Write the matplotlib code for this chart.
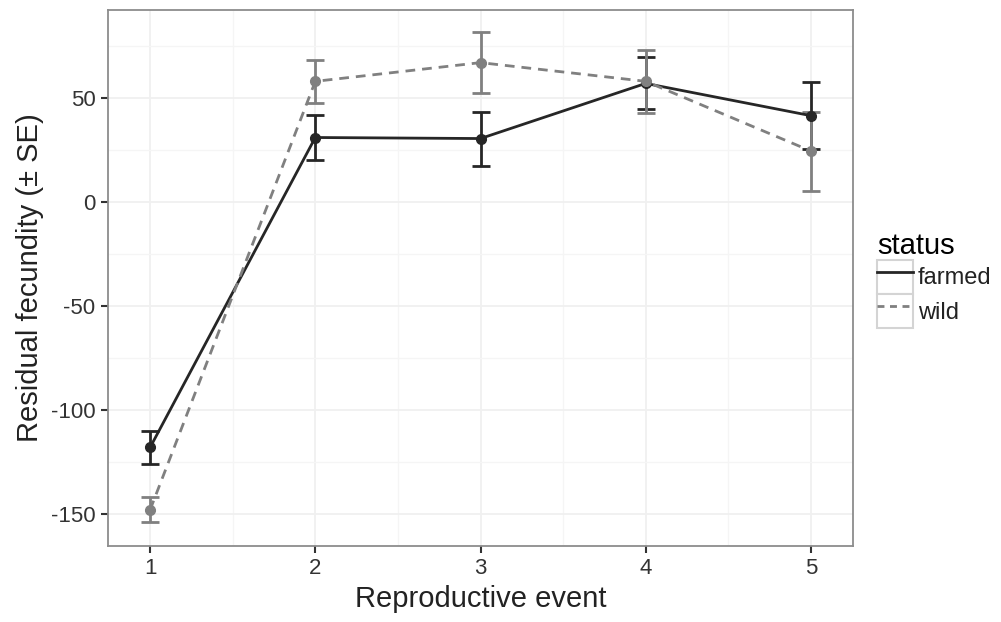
import matplotlib
matplotlib.use("Agg")
import matplotlib.pyplot as plt
from matplotlib.legend_handler import HandlerLine2D
from matplotlib.patches import Rectangle

plt.rcParams["font.family"] = ["Liberation Sans", "DejaVu Sans"]
plt.rcParams["axes.unicode_minus"] = False

# data
events = [1, 2, 3, 4, 5]
farmed_mean = [-118, 31, 30.5, 57, 41.5]
farmed_se = [8, 11, 13, 12.5, 16]
wild_mean = [-148, 58, 67, 58, 24.5]
wild_se = [6, 10.5, 14.5, 15, 19]
labels = ["farmed", "wild"]

dark = "#262626"
grey = "#808080"
dash = (0, (3.5, 2.5))


class BoxedLine(HandlerLine2D):
    # ggplot-style legend key: line inside a grey-bordered box
    def create_artists(self, legend, orig_handle, xdescent, ydescent,
                       width, height, fontsize, trans):
        arts = super().create_artists(legend, orig_handle, xdescent, ydescent,
                                      width, height, fontsize, trans)
        box = Rectangle((-xdescent, -ydescent), width, height, fc="white",
                        ec="#d4d4d4", lw=1.5, transform=trans)
        return [box] + list(arts)


fig = plt.figure(figsize=(10.01, 6.22), dpi=100)
ax = fig.add_axes([108 / 1001, 76 / 622, 745 / 1001, 536 / 622])

# layer order like ggplot: error bars, then lines, then points
series = [(farmed_mean, farmed_se, dark, "-"), (wild_mean, wild_se, grey, dash)]
for m, se, c, ls in series:
    ax.errorbar(events, m, yerr=se, fmt="none", ecolor=c, elinewidth=2,
                capsize=6.5, capthick=2, zorder=2)
for m, se, c, ls in series:
    ax.plot(events, m, color=c, lw=2, ls=ls, zorder=3)
for m, se, c, ls in series:
    ax.plot(events, m, "o", color=c, ms=7, zorder=4)

ax.set_xlim(0.745, 5.255)
ax.set_ylim(-165.4, 92.3)
ax.set_xticks(events)
ax.set_yticks([-150, -100, -50, 0, 50])
ax.set_xticks([1.5, 2.5, 3.5, 4.5], minor=True)
ax.set_yticks([-125, -75, -25, 25, 75], minor=True)
ax.grid(True, which="major", color="#f0f0f0", lw=1.3)
ax.grid(True, which="minor", color="#f5f5f5", lw=1.0)
ax.set_axisbelow(True)

for s in ax.spines.values():
    s.set_color("#8c8c8c")
    s.set_linewidth(1.3)

ax.tick_params(which="major", length=5, width=1.5, color="#333333",
               labelsize=16, labelcolor="#333333", pad=4)
ax.tick_params(which="minor", length=0)

ax.set_xlabel("Reproductive event", fontsize=21, color="#222222", labelpad=4)
ax.set_ylabel("Residual fecundity (± SE)", fontsize=21, color="#222222",
              labelpad=5)

keys = [plt.Line2D([], [], color=dark, lw=2),
        plt.Line2D([], [], color=grey, lw=2, ls=(0, (2.5, 2)))]
leg = fig.legend(keys, labels, title="status", loc="center left",
                 bbox_to_anchor=(877 / 1001, 1 - 280 / 622), frameon=False,
                 fontsize=17, title_fontsize=21, labelspacing=0,
                 handlelength=1.52, handleheight=1.85, handletextpad=0.21,
                 borderpad=0, borderaxespad=0,
                 handler_map={plt.Line2D: BoxedLine()})
leg._legend_box.align = "left"
for t in leg.get_texts():
    t.set_color("#222222")

fig.savefig("out.png", dpi=100)
